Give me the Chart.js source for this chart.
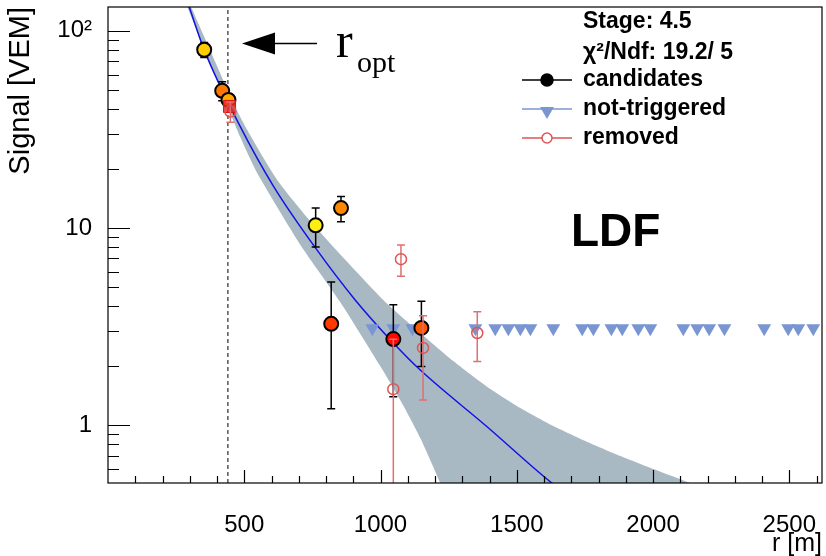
<!DOCTYPE html>
<html lang="en">
<head>
  <meta charset="UTF-8" />
  <title>LDF</title>
  <script src="https://cdn.jsdelivr.net/npm/chart.js"></script>
  <style>
    html, body { margin: 0; padding: 0; background: #fff; }
    canvas { display: block; }
  </style>
</head>
<body>
  <canvas id="chart" width="826" height="556"></canvas>

  <script>
    // axis ranges and labelled ticks
    const rRange = [0, 2620];
    const sRange = [0.508, 132];
    const xTickLabels = [500, 1000, 1500, 2000, 2500];
    const yTickLabels = [1, 10, 100];

    // candidate stations (r [m], signal [VEM], error)
    const candR = [353, 419, 442, 762, 855, 819, 1047, 1150];
    const candS = [80.1, 49.6, 44.6, 10.3, 12.6, 3.26, 2.73, 3.11];
    const candErr = [7, 5.5, 3, 2.3, 1.85, 2.05, 1.34, 1.13];
    const candColors = ['#ffcc00', '#ff7700', '#ffa800', '#ffee11', '#ff8800', '#ff3a00', '#ff0800', '#ff5a00'];

    // saturated station (square)
    const satR = [446];
    const satS = [41.3];

    // removed stations
    const remR = [449, 1075, 1047, 1156, 1355];
    const remS = [38.9, 6.94, 1.52, 2.46, 2.93];
    const remErr = [4.6, 1.25, 1.2, 1.12, 0.83];

    // not-triggered stations
    const ntR = [970, 1047, 1117, 1348, 1421, 1469, 1513, 1550, 1634, 1740, 1781, 1847, 1887,
                 1946, 1990, 2111, 2162, 2206, 2262, 2408, 2496, 2533, 2588];
    const ntS = [3.1, 3.1, 3.1, 3.1, 3.1, 3.1, 3.1, 3.1, 3.1, 3.1, 3.1, 3.1, 3.1,
                 3.1, 3.1, 3.1, 3.1, 3.1, 3.1, 3.1, 3.1, 3.1, 3.1];

    // fitted LDF
    const fitR = [298, 353, 485, 608, 762, 907, 1048, 1146, 1391, 1629, 1700];
    const fitS = [132, 80, 32.7, 16.2, 7.89, 4.31, 2.60, 1.90, 0.98, 0.507, 0.43];

    // uncertainty band edges
    const bandUpR = [305, 485, 621, 761, 1010, 1146, 1267, 1392, 1513, 1634, 1759, 1880, 2001, 2137, 2247];
    const bandUpS = [132, 36.6, 17.5, 10.1, 4.31, 2.93, 2.11, 1.56, 1.22, 0.988, 0.820, 0.696, 0.598, 0.508, 0.446];
    const bandLoR = [291, 485, 551, 706, 852, 999, 1083, 1146, 1219, 1249];
    const bandLoS = [132, 29.0, 18.6, 8.2, 4.21, 1.99, 1.26, 0.859, 0.508, 0.39];

    const rOpt = 440;

    const header = ['Stage: 4.5', 'χ²/Ndf: 19.2/ 5'];

    const pts = (xs, ys) => xs.map((x, i) => ({ x: x, y: ys[i] }));

    const bandPolygon = pts(bandUpR, bandUpS).concat(pts(bandLoR, bandLoS).reverse());

    // error bars drawn just before the markers of a dataset
    const errorBars = {
      id: 'errorBars',
      beforeDatasetDraw(chart, args) {
        const ds = chart.data.datasets[args.index];
        if (!ds.errors) return;
        const { ctx, chartArea: a } = chart;
        const xs = chart.scales.x, ys = chart.scales.y;
        ctx.save();
        ctx.beginPath();
        ctx.rect(a.left, a.top, a.right - a.left, a.bottom - a.top);
        ctx.clip();
        ctx.strokeStyle = ds.errorColor;
        ctx.lineWidth = 1.5;
        ds.data.forEach((p, i) => {
          const e = ds.errors[i];
          const px = xs.getPixelForValue(p.x);
          const top = ys.getPixelForValue(p.y + e);
          const lo = p.y - e;
          const bot = lo > 0 ? ys.getPixelForValue(lo) : a.bottom + 5;
          ctx.beginPath();
          ctx.moveTo(px, top); ctx.lineTo(px, bot);
          ctx.moveTo(px - 4, top); ctx.lineTo(px + 4, top);
          if (lo > 0) { ctx.moveTo(px - 4, bot); ctx.lineTo(px + 4, bot); }
          ctx.stroke();
        });
        ctx.restore();
      }
    };

    // ROOT-like frame with inward ticks
    const frameTicks = {
      id: 'frameTicks',
      afterDatasetsDraw(chart) {
        const { ctx, chartArea: a } = chart;
        const xs = chart.scales.x, ys = chart.scales.y;
        ctx.save();
        ctx.strokeStyle = '#000';
        ctx.lineWidth = 1.2;
        ctx.strokeRect(a.left, a.top, a.right - a.left, a.bottom - a.top);
        ctx.beginPath();
        for (let v = 100; v < rRange[1]; v += 100) {
          const px = Math.round(xs.getPixelForValue(v)) + 0.5;
          const len = v % 500 === 0 ? 13 : 7;
          ctx.moveTo(px, a.bottom); ctx.lineTo(px, a.bottom - len);
        }
        for (let d = -1; d <= 2; d++) {
          for (let m = 1; m <= 9; m++) {
            const v = m * Math.pow(10, d);
            if (v <= sRange[0] || v >= sRange[1]) continue;
            const py = Math.round(ys.getPixelForValue(v)) + 0.5;
            const len = m === 1 ? 22 : 11;
            ctx.moveTo(a.left, py); ctx.lineTo(a.left + len, py);
          }
        }
        ctx.stroke();
        ctx.restore();
      }
    };

    // legend, LDF label and r_opt arrow
    const overlay = {
      id: 'overlay',
      afterDraw(chart) {
        const ctx = chart.ctx;
        const H = Chart.helpers;
        ctx.save();
        ctx.fillStyle = '#000';
        ctx.textBaseline = 'middle';
        ctx.textAlign = 'left';
        ctx.font = 'bold 23px "Liberation Sans"';
        ctx.fillText(header[0], 583, 22);
        ctx.fillText(header[1], 583, 53);

        const rows = chart.data.datasets.filter(d => d.legend).sort((a, b) => a.legend.row - b.legend.row);
        rows.forEach((d, i) => {
          const y = 80 + i * 29;
          ctx.strokeStyle = d.legend.line;
          ctx.lineWidth = 1.5;
          ctx.beginPath(); ctx.moveTo(522, y); ctx.lineTo(572, y); ctx.stroke();
          ctx.fillStyle = d.legend.fill;
          ctx.strokeStyle = d.legend.stroke;
          H.drawPoint(ctx, d.legend.point, 547, y + (d.legend.dy || 0));
          ctx.fillStyle = '#000';
          ctx.fillText(d.label, 583, y);
        });

        ctx.font = 'bold 46px "Liberation Sans"';
        ctx.fillText('LDF', 571, 233);

        // arrow pointing to r_opt
        ctx.strokeStyle = '#000';
        ctx.lineWidth = 1.5;
        ctx.beginPath(); ctx.moveTo(270, 43.5); ctx.lineTo(317, 43.5); ctx.stroke();
        ctx.beginPath();
        ctx.moveTo(242, 43.5); ctx.lineTo(275, 32.5); ctx.lineTo(275, 54.5); ctx.closePath();
        ctx.fill();
        ctx.textBaseline = 'alphabetic';
        ctx.font = '50px "Liberation Serif"';
        ctx.fillText('r', 336, 57);
        ctx.font = '30px "Liberation Serif"';
        ctx.fillText('opt', 357, 72);
        ctx.restore();
      }
    };

    const noPad = s => { s.paddingLeft = 0; s.paddingRight = 0; s.paddingTop = 0; s.paddingBottom = 0; };

    const chart = new Chart(document.getElementById('chart').getContext('2d'), {
      type: 'scatter',
      data: {
        datasets: [
          {
            label: 'removed',
            data: pts(remR, remS),
            errors: remErr,
            errorColor: '#e07070',
            pointStyle: 'circle',
            pointRadius: 5.5,
            backgroundColor: 'rgba(0,0,0,0)',
            borderColor: '#dd5555',
            pointBorderWidth: 1.5,
            order: 0,
            legend: { row: 2, line: '#dd5555', fill: '#fff', stroke: '#dd5555', point: { pointStyle: 'circle', radius: 5, borderWidth: 1.5 } }
          },
          {
            label: 'saturated',
            data: pts(satR, satS),
            pointStyle: 'rect',
            pointRadius: 8.5,
            backgroundColor: 'rgba(235,40,40,0.85)',
            borderColor: '#e01010',
            pointBorderWidth: 1,
            order: 1
          },
          {
            label: 'candidates',
            data: pts(candR, candS),
            errors: candErr,
            errorColor: '#000',
            pointStyle: 'circle',
            pointRadius: 7,
            backgroundColor: candColors,
            borderColor: '#000',
            pointBorderWidth: 2,
            order: 2,
            legend: { row: 0, line: '#000', fill: '#000', stroke: '#000', point: { pointStyle: 'circle', radius: 6, borderWidth: 1 } }
          },
          {
            label: 'not-triggered',
            data: pts(ntR, ntS),
            pointStyle: 'triangle',
            rotation: 180,
            pointRadius: 8,
            backgroundColor: '#7a96d2',
            borderWidth: 0,
            pointBorderWidth: 0,
            order: 3,
            legend: { row: 1, line: '#7a96d2', fill: '#7a96d2', stroke: '#7a96d2', dy: 2, point: { pointStyle: 'triangle', rotation: 180, radius: 8, borderWidth: 0 } }
          },
          {
            type: 'line',
            label: 'fit',
            data: pts(fitR, fitS),
            borderColor: '#1212e6',
            borderWidth: 1.5,
            pointRadius: 0,
            cubicInterpolationMode: 'monotone',
            fill: false,
            order: 4
          },
          {
            type: 'line',
            label: 'band',
            data: bandPolygon,
            borderWidth: 0,
            borderColor: 'rgba(0,0,0,0)',
            backgroundColor: '#a9b9c4',
            pointRadius: 0,
            tension: 0.2,
            fill: 'shape',
            order: 5
          },
          {
            type: 'line',
            label: 'r_opt',
            data: [{ x: rOpt, y: sRange[0] }, { x: rOpt, y: sRange[1] }],
            borderColor: '#000',
            borderWidth: 1,
            borderDash: [4, 3],
            pointRadius: 0,
            fill: false,
            order: 6
          }
        ]
      },
      options: {
        responsive: false,
        animation: false,
        events: [],
        layout: { autoPadding: false, padding: { top: 7, right: 4, left: 0, bottom: 0 } },
        plugins: {
          legend: { display: false },
          tooltip: { enabled: false }
        },
        scales: {
          x: {
            type: 'linear',
            min: rRange[0],
            max: rRange[1],
            afterBuildTicks: s => { s.ticks = xTickLabels.map(v => ({ value: v })); },
            afterFit: s => { s.height = 73; noPad(s); },
            grid: { display: false, drawTicks: false },
            border: { display: false },
            ticks: {
              color: '#000',
              padding: 28,
              maxRotation: 0,
              autoSkip: false,
              font: { family: 'Liberation Sans', size: 24 },
              callback: v => String(v)
            },
            title: {
              display: true,
              text: 'r [m]',
              align: 'end',
              color: '#000',
              padding: { top: 0, bottom: -3 },
              font: { family: 'Liberation Sans', size: 25 }
            }
          },
          y: {
            type: 'logarithmic',
            min: sRange[0],
            max: sRange[1],
            afterBuildTicks: s => { s.ticks = yTickLabels.map(v => ({ value: v })); },
            afterFit: s => { s.width = 108; noPad(s); },
            grid: { display: false, drawTicks: false },
            border: { display: false },
            ticks: {
              color: '#000',
              padding: 16,
              autoSkip: false,
              font: { family: 'Liberation Sans', size: 24 },
              callback: v => (v === 100 ? '10²' : String(v))
            },
            title: {
              display: true,
              text: 'Signal [VEM]',
              align: 'end',
              color: '#000',
              padding: { top: 4, bottom: 0 },
              font: { family: 'Liberation Sans', size: 29 }
            }
          }
        }
      },
      plugins: [errorBars, frameTicks, overlay]
    });
  </script>
</body>
</html>
